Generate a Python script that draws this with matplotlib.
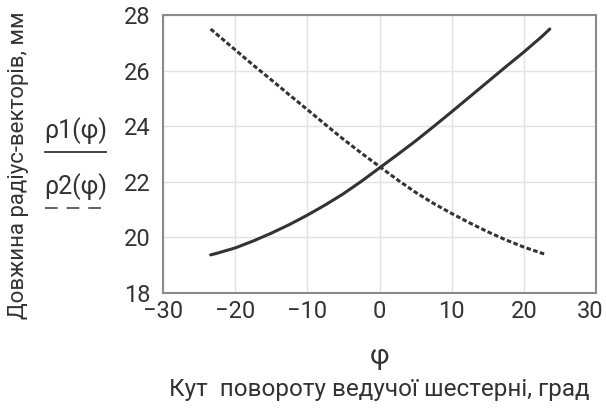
import matplotlib
matplotlib.use("Agg")
import matplotlib.pyplot as plt
from matplotlib.lines import Line2D
from matplotlib.transforms import ScaledTranslation

phi1 = [-23.4, -22.5, -20, -17.5, -15, -12.5, -10, -7.5, -5, -2.5, 0,
        2.5, 5, 7.5, 10, 12.5, 15, 17.5, 20, 22.5, 23.6]
rho1 = [19.37, 19.43, 19.62, 19.87, 20.15, 20.46, 20.8, 21.17, 21.57, 22.02, 22.5,
        22.98, 23.47, 23.99, 24.52, 25.06, 25.6, 26.14, 26.67, 27.23, 27.5]
phi2 = [-23.4, -22.5, -20, -17.5, -15, -12.5, -10, -7.5, -5, -2.5, 0,
        2.5, 5, 7.5, 10, 12.5, 15, 17.5, 20, 22.5, 23.0]
rho2 = [27.5, 27.3, 26.75, 26.2, 25.67, 25.13, 24.6, 24.06, 23.53, 23.03, 22.55,
        22.07, 21.62, 21.22, 20.86, 20.52, 20.2, 19.91, 19.65, 19.43, 19.39]

xticks = [-30, -20, -10, 0, 10, 20, 30]
yticks = [18, 20, 22, 24, 26, 28]

plt.rcParams['font.family'] = ['Roboto', 'DejaVu Sans']
tc = '#333333'

fig = plt.figure(figsize=(6.06, 4.08), dpi=100)
ax = fig.add_axes([0.269, 0.282, 0.7145, 0.681])

ax.plot(phi1, rho1, color='#333333', lw=2.2, solid_capstyle='round')
ax.plot(phi2, rho2, color='#333333', lw=2.2, linestyle=(0, (1.5, 0.8)))

ax.set_xlim(-30, 30)
ax.set_ylim(18, 28)
ax.set_xticks(xticks)
ax.set_yticks(yticks)
ax.set_xticklabels([str(t).replace('-', '\u2212') for t in xticks])
ax.grid(True, color='#e2e2e2', lw=1)
ax.set_axisbelow(True)
ax.tick_params(length=0, labelsize=17, colors=tc)
ax.tick_params(axis='x', pad=5)
ax.tick_params(axis='y', pad=9)
for s in ax.spines.values():
    s.set_color('#8a8a8a')
    s.set_linewidth(1.5)

last = ax.get_xticklabels()[-1]
last.set_transform(last.get_transform() + ScaledTranslation(-4 / 72, 0, fig.dpi_scale_trans))

fig.text(0.03, 0.594, 'Довжина радіус-векторів, мм', rotation=90, ha='center', va='center',
         fontsize=16, color=tc)
fig.text(0.073, 0.681, 'ρ1(φ)', fontsize=18, color=tc, ha='left', va='center')
fig.add_artist(Line2D([0.075, 0.175], [0.628, 0.628], color='#333333', lw=1.3,
                      transform=fig.transFigure))
fig.text(0.073, 0.542, 'ρ2(φ)', fontsize=18, color=tc, ha='left', va='center')
fig.add_artist(Line2D([0.075, 0.175], [0.49, 0.49], color='#555555', lw=1.3,
                      linestyle=(0, (7, 5)), transform=fig.transFigure))

fig.text(0.626, 0.125, 'φ', fontsize=20, color=tc, ha='center', va='center')
fig.text(0.626, 0.045, 'Кут  повороту ведучої шестерні, град', fontsize=17.5, color=tc,
         ha='center', va='center')

fig.savefig('out.png', dpi=100)
